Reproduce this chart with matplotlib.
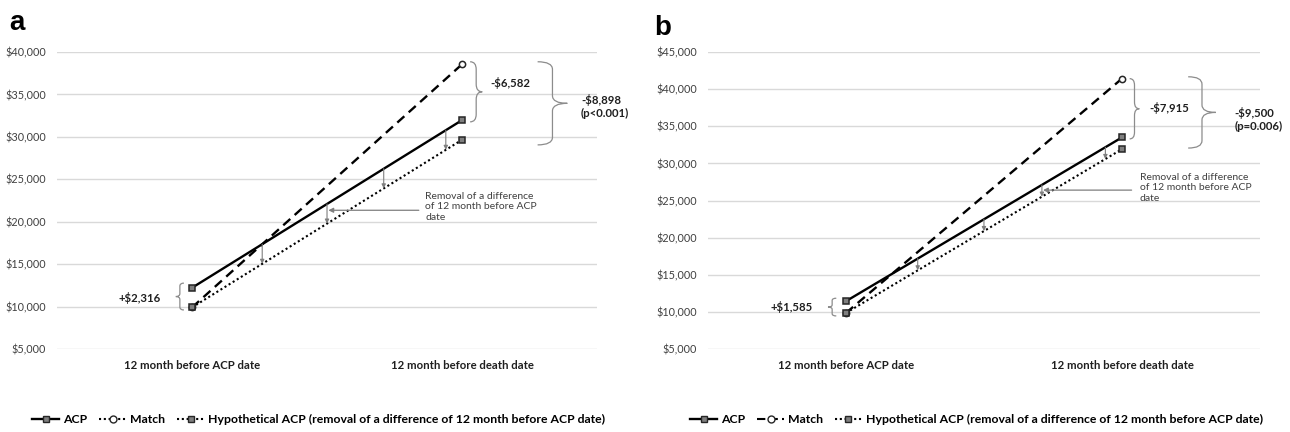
import matplotlib
matplotlib.use("Agg")
import matplotlib.pyplot as plt
from matplotlib.path import Path
from matplotlib.patches import PathPatch
from matplotlib.lines import Line2D
from matplotlib.ticker import FuncFormatter

plt.rcParams['font.family'] = ['Lato', 'DejaVu Sans']

categories = ['12 month before ACP date', '12 month before death date']

# mean cost per patient, panel a
acp_a = [12216, 31970]
match_a = [9900, 38552]
hypo_a = [9900, 29654]

# mean cost per patient, panel b
acp_b = [11440, 33500]
match_b = [9855, 41415]
hypo_b = [9855, 31915]

base_diff_a = '+$2,316'
end_diff_a = '-$6,582'
total_diff_a = '-$8,898\n(p<0.001)'
base_diff_b = '+$1,585'
end_diff_b = '-$7,915'
total_diff_b = '-$9,500\n(p=0.006)'

note = 'Removal of a difference\nof 12 month before ACP\ndate'
legend_labels = ['ACP', 'Match',
                 'Hypothetical ACP (removal of a difference of 12 month before ACP date)']

GRID = '#d9d9d9'
BRACE = '#8c8c8c'
TEXT = '#404040'
DARK = '#1f1f1f'


def brace(ax, x, y0, y1, w, r):
    # curly brace from y0 to y1, ends at x, tip at x + w (w < 0 points left)
    ym = (y0 + y1) / 2
    h = x + w / 2
    verts = [(x, y1), (h, y1), (h, y1 - r), (h, ym + r), (h, ym), (x + w, ym),
             (h, ym), (h, ym - r), (h, y0 + r), (h, y0), (x, y0)]
    codes = [Path.MOVETO, Path.CURVE3, Path.CURVE3, Path.LINETO, Path.CURVE3, Path.CURVE3,
             Path.CURVE3, Path.CURVE3, Path.LINETO, Path.CURVE3, Path.CURVE3]
    ax.add_patch(PathPatch(Path(verts, codes), fill=False, edgecolor=BRACE, lw=0.9,
                           clip_on=False))


def draw_panel(ax, acp, match, hypo, ymax):
    x = [0, 1]
    ax.plot(x, match, color='black', lw=1.7, ls=(0, (4, 2.5)), marker='o', ms=4.5,
            mfc='white', mec='#262626', mew=1.1, zorder=3, clip_on=False)
    ax.plot(x, acp, color='black', lw=1.7, marker='s', ms=5,
            mfc='#7f7f7f', mec='#262626', mew=1.1, zorder=4, clip_on=False)
    ax.plot(x, hypo, color='black', lw=1.5, ls=(0, (1, 1.3)), marker='s', ms=5,
            mfc='#7f7f7f', mec='#262626', mew=1.1, zorder=5, clip_on=False)

    # small arrows showing the shift from ACP to hypothetical ACP
    for t in [0.26, 0.5, 0.71, 0.94]:
        ya = acp[0] + t * (acp[1] - acp[0])
        yh = hypo[0] + t * (hypo[1] - hypo[0])
        ax.annotate('', xy=(t, yh), xytext=(t, ya),
                    arrowprops=dict(arrowstyle='-|>', color='#7f7f7f', lw=0.8,
                                    mutation_scale=6, shrinkA=0, shrinkB=0), zorder=6)

    ax.set_xlim(-0.5, 1.5)
    ax.set_ylim(5000, ymax)
    ax.set_yticks(range(5000, ymax + 1, 5000))
    ax.yaxis.set_major_formatter(FuncFormatter(lambda v, p: '${:,.0f}'.format(v)))
    ax.set_xticks(x)
    ax.set_xticklabels(categories, fontweight='bold', fontsize=8.2, color=DARK)
    ax.tick_params(axis='y', length=0, pad=8, labelsize=7.8, labelcolor=TEXT)
    ax.tick_params(axis='x', length=0, pad=8)
    ax.grid(axis='y', color=GRID, lw=1)
    ax.set_axisbelow(True)
    for s in ax.spines.values():
        s.set_visible(False)


fig = plt.figure(figsize=(12.9, 4.32), dpi=100)
ax_a = fig.add_axes([0.0442, 0.1921, 0.4186, 0.6875])
ax_b = fig.add_axes([0.5488, 0.1921, 0.4279, 0.6875])

draw_panel(ax_a, acp_a, match_a, hypo_a, 40000)
draw_panel(ax_b, acp_b, match_b, hypo_b, 45000)

lab = dict(fontsize=8.2, fontweight='bold', color=DARK)

# panel a annotations
brace(ax_a, -0.03, hypo_a[0] - 300, acp_a[0] + 550, -0.03, 350)
ax_a.text(-0.193, (acp_a[0] + hypo_a[0]) / 2, base_diff_a, ha='center', va='center', **lab)
brace(ax_a, 1.03, acp_a[1] - 200, match_a[1] + 300, 0.045, 900)
ax_a.text(1.104, (acp_a[1] + match_a[1]) / 2 + 1100, end_diff_a, ha='left', va='center',
          **lab)
brace(ax_a, 1.28, hypo_a[1] - 600, match_a[1] + 300, 0.11, 900)
ax_a.text(1.441, (hypo_a[1] + match_a[1]) / 2 - 500, total_diff_a, ha='left', va='center',
          linespacing=1.2, **lab)
ax_a.annotate('', xy=(0.505, 21350), xytext=(0.84, 21350),
              arrowprops=dict(arrowstyle='-|>', color='#7f7f7f', lw=0.9,
                              mutation_scale=7, shrinkA=0, shrinkB=0), zorder=6)
ax_a.text(0.863, 23500, note, ha='left', va='top', fontsize=7.5, color=TEXT,
          linespacing=1.2)

# panel b annotations
brace(ax_b, -0.035, hypo_b[0] - 400, acp_b[0] + 400, -0.03, 300)
ax_b.text(-0.196, (acp_b[0] + hypo_b[0]) / 2, base_diff_b, ha='center', va='center', **lab)
brace(ax_b, 1.028, acp_b[1] - 200, match_b[1] + 0, 0.035, 900)
ax_b.text(1.101, (acp_b[1] + match_b[1]) / 2, end_diff_b, ha='left', va='center', **lab)
brace(ax_b, 1.24, hypo_b[1] + 150, match_b[1] + 250, 0.1, 1000)
ax_b.text(1.409, (hypo_b[1] + match_b[1]) / 2 - 800, total_diff_b, ha='left', va='center',
          linespacing=1.2, **lab)
ax_b.annotate('', xy=(0.714, 26400), xytext=(1.035, 26400),
              arrowprops=dict(arrowstyle='-|>', color='#7f7f7f', lw=0.9,
                              mutation_scale=7, shrinkA=0, shrinkB=0), zorder=6)
ax_b.text(1.065, 28700, note, ha='left', va='top', fontsize=7.5, color=TEXT,
          linespacing=1.2)

fig.text(0.007, 0.93, 'a', fontsize=20, fontweight='bold', family='Liberation Sans')
fig.text(0.507, 0.919, 'b', fontsize=20, fontweight='bold', family='Liberation Sans')


def legend_handles(match_ls):
    return [
        Line2D([], [], color='black', lw=1.7, marker='s', ms=5, mfc='#7f7f7f', mec='#262626'),
        Line2D([], [], color='black', lw=1.5, ls=match_ls, marker='o', ms=5, mfc='white',
               mec='#262626'),
        Line2D([], [], color='black', lw=1.5, ls=(0, (1, 1.3)), marker='s', ms=5,
               mfc='#7f7f7f', mec='#262626'),
    ]


leg_font = dict(weight='bold', size=8.8)
fig.legend(legend_handles((0, (1, 1.3))), legend_labels, loc='center',
           bbox_to_anchor=(0.247, 0.028), ncol=3, frameon=False, handlelength=2.2,
           handletextpad=0.3, columnspacing=1.0, prop=leg_font)
fig.legend(legend_handles((0, (4, 2))), legend_labels, loc='center',
           bbox_to_anchor=(0.757, 0.028), ncol=3, frameon=False, handlelength=2.2,
           handletextpad=0.3, columnspacing=1.0, prop=leg_font)

fig.savefig('out.png', dpi=100)
